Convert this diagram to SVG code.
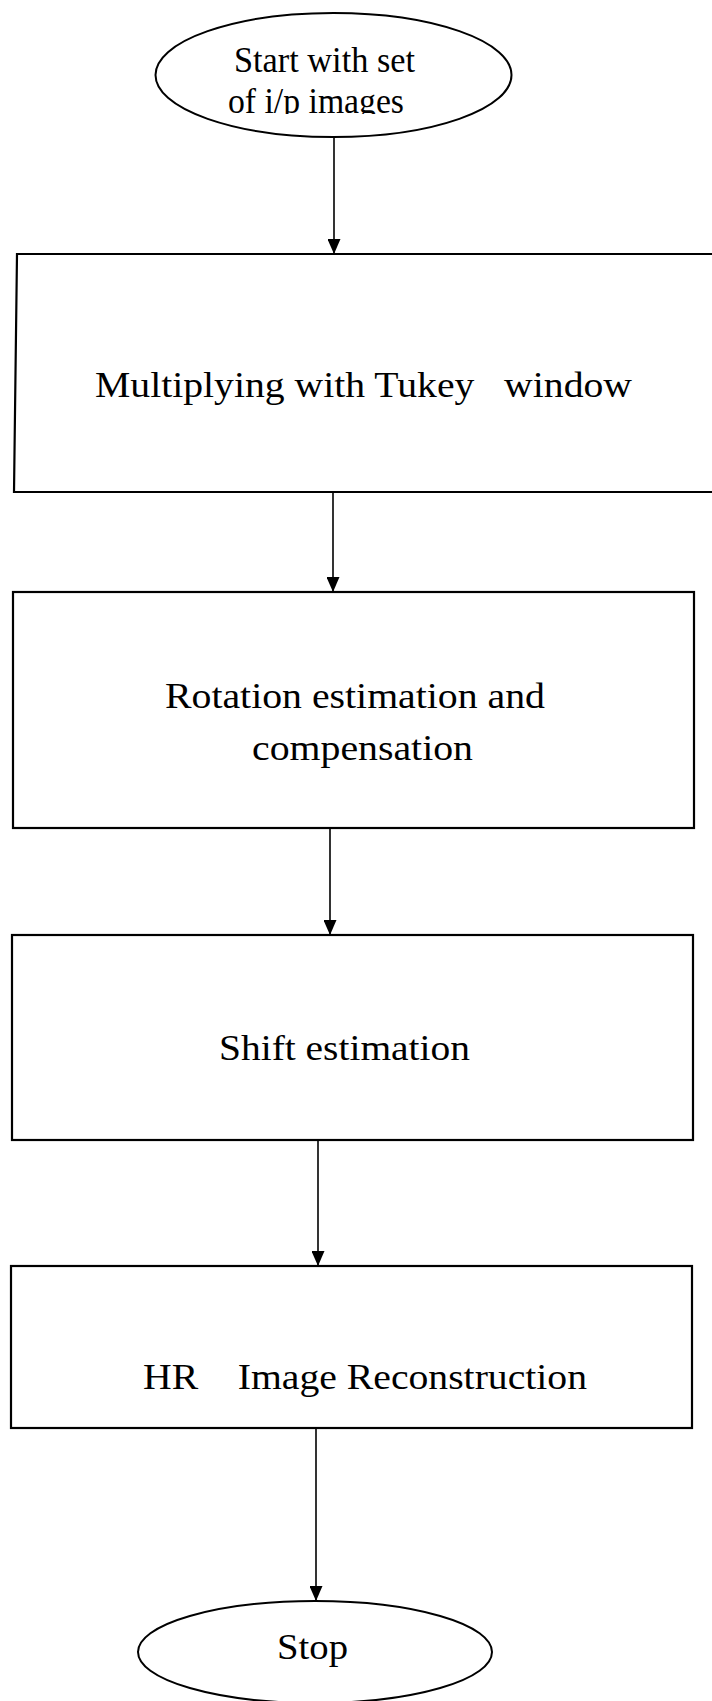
<svg xmlns="http://www.w3.org/2000/svg" width="712" height="1701" viewBox="0 0 712 1701">
<style>
  .box { fill: #ffffff; stroke: #000000; stroke-width: 2.2; }
  .term { fill: #ffffff; stroke: #000000; stroke-width: 2; }
  .lbl { font-family: "Liberation Serif", "Times New Roman", serif; font-size: 35px; fill: #000000; }
  .tlbl { font-family: "Liberation Serif", "Times New Roman", serif; font-size: 35px; fill: #000000; }
  .conn { stroke: #000000; stroke-width: 1.6; fill: none; marker-end: url(#arrow); }
</style>
<defs>
  <marker id="arrow" markerUnits="userSpaceOnUse" viewBox="0 0 15 13" refX="14" refY="6.5" markerWidth="15" markerHeight="13" orient="auto">
    <path d="M0,0 L15,6.5 L0,13 z" fill="#000000"/>
  </marker>
  <clipPath id="startClip">
    <rect x="150" y="10" width="370" height="104"/>
  </clipPath>
</defs>
<rect x="0" y="0" width="712" height="1701" fill="#ffffff"/>

<g id="connectors">
  <line class="conn" x1="334" y1="137" x2="334" y2="253"/>
  <line class="conn" x1="333" y1="492" x2="333" y2="591"/>
  <line class="conn" x1="330" y1="828" x2="330" y2="934"/>
  <line class="conn" x1="318" y1="1140" x2="318" y2="1265"/>
  <line class="conn" x1="316" y1="1428" x2="316" y2="1600"/>
</g>

<g id="start">
  <ellipse class="term" cx="333.5" cy="75" rx="178" ry="62"/>
  <g clip-path="url(#startClip)">
    <text class="tlbl" x="234" y="72" textLength="181" lengthAdjust="spacingAndGlyphs">Start with set</text>
    <text class="tlbl" x="228" y="113" textLength="176" lengthAdjust="spacingAndGlyphs">of i/p images</text>
  </g>
</g>

<g id="tukey">
  <polyline class="box" points="716,254 17,254 14,492 716,492"/>
  <text class="lbl" x="95" y="397" textLength="537" lengthAdjust="spacingAndGlyphs" xml:space="preserve">Multiplying with Tukey   window</text>
</g>

<g id="rotation">
  <rect class="box" x="13" y="592" width="681" height="236"/>
  <text class="lbl" x="165" y="708" textLength="380" lengthAdjust="spacingAndGlyphs">Rotation estimation and</text>
  <text class="lbl" x="252" y="760" textLength="221" lengthAdjust="spacingAndGlyphs">compensation</text>
</g>

<g id="shift">
  <rect class="box" x="12" y="935" width="681" height="205"/>
  <text class="lbl" x="219" y="1060" textLength="251" lengthAdjust="spacingAndGlyphs">Shift estimation</text>
</g>

<g id="hr">
  <rect class="box" x="11" y="1266" width="681" height="162"/>
  <text class="lbl" x="143" y="1389" textLength="444" lengthAdjust="spacingAndGlyphs" xml:space="preserve">HR    Image Reconstruction</text>
</g>

<g id="stop">
  <ellipse class="term" cx="315" cy="1652" rx="177" ry="51"/>
  <text class="tlbl" x="277" y="1659" textLength="71" lengthAdjust="spacingAndGlyphs">Stop</text>
</g>
</svg>
